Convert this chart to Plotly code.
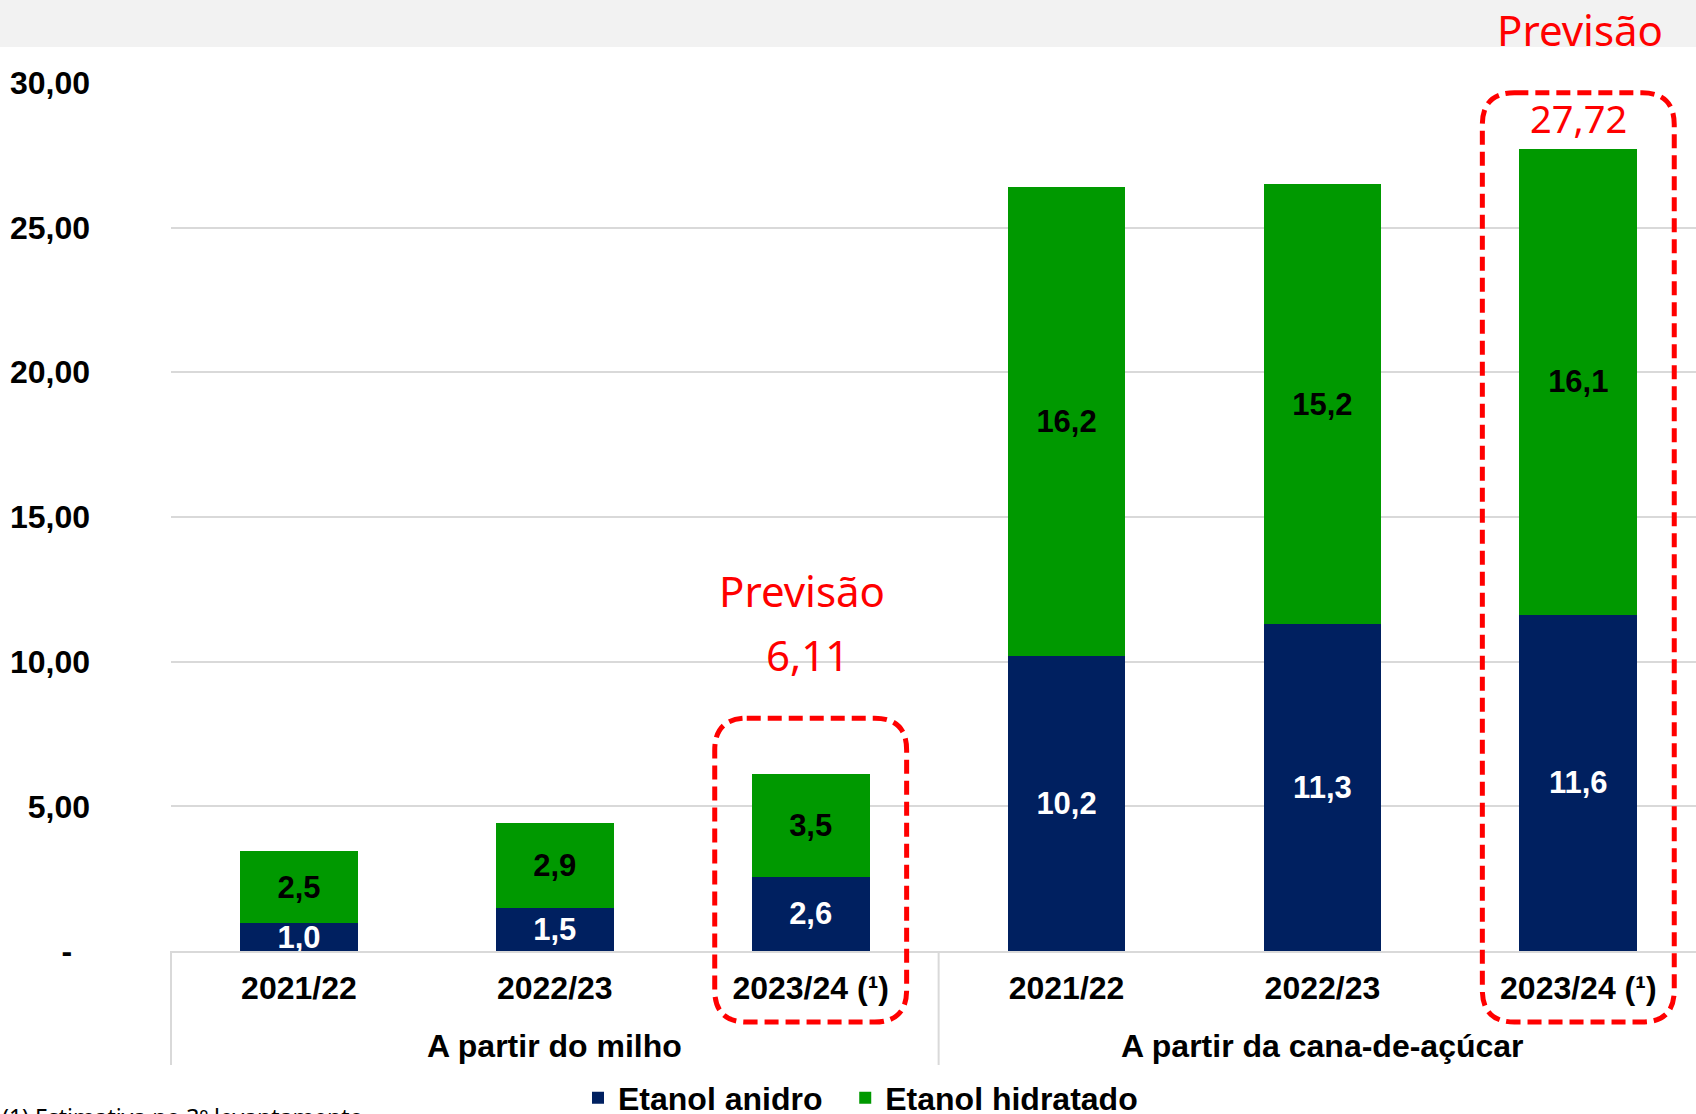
import plotly.graph_objects as go

# ---------------- data ----------------
categories = ["2021/22", "2022/23", "2023/24 (¹)", "2021/22", "2022/23", "2023/24 (¹)"]
groups = ["A partir do milho", "A partir da cana-de-açúcar"]
group_sizes = [3, 3]
series_names = ["Etanol anidro", "Etanol hidratado"]
anidro = [0.96, 1.50, 2.57, 10.20, 11.30, 11.62]
hidratado = [2.48, 2.91, 3.54, 16.20, 15.20, 16.10]
forecast_idx = [2, 5]
y_ticks = [0, 5, 10, 15, 20, 25, 30]
y_ticktext = ["-\u00a0\u00a0", "5,00", "10,00", "15,00", "20,00", "25,00", "30,00"]
forecast_label = "Previsão"
footnote = "(1) Estimativa no 3º levantamento"

# ---------------- layout geometry ----------------
W, H = 1696, 1114
L, R, T, B = 171, 0, 82, 163
PW, PH = W - L - R, H - T - B
XR = [-0.5, 5.46]
YR = [0, 30.03]

NAVY = "#002060"
GREEN = "#009900"
GRID = "#d9d9d9"
RED = "#ff0000"
BOLD = "Liberation Sans, Arial, sans-serif"
LIGHT = "Noto Sans, Open Sans, sans-serif"


def fmt1(v):
    return f"{v:.1f}".replace(".", ",")


def fmt2(v):
    return f"{v:.2f}".replace(".", ",")


def xp(v):
    return (v - XR[0]) / (XR[1] - XR[0])


def yp(v):
    return (v - YR[0]) / (YR[1] - YR[0])


def ypix(py):  # paper y of a pixel row
    return (H - B - py) / PH


x = list(range(len(categories)))
totals = [a + h for a, h in zip(anidro, hidratado)]

fig = go.Figure()
for vals, name, color, tcolor in [(anidro, series_names[0], NAVY, "white"),
                                  (hidratado, series_names[1], GREEN, "black")]:
    fig.add_trace(go.Bar(
        x=x, y=vals, name=name + "\u00a0\u00a0", marker=dict(color=color, line=dict(width=0)),
        text=[fmt1(v) for v in vals], textposition="inside", insidetextanchor="middle",
        textangle=0, constraintext="none",
        textfont=dict(family=BOLD, size=31, color=tcolor, weight="bold"),
        width=0.46, hoverinfo="skip",
    ))

shapes = []
# grey band at the top
shapes.append(dict(type="rect", xref="paper", yref="paper", x0=-L / PW - 0.01, x1=1 + R / PW + 0.01,
                   y0=ypix(47), y1=ypix(-2), fillcolor="#f2f2f2", line=dict(width=0), layer="below"))
# group separators
start = 0
for n in group_sizes + [0]:
    xv = start - 0.5
    if XR[0] - 1e-9 <= xv <= XR[1]:
        shapes.append(dict(type="line", xref="paper", yref="paper", x0=xp(xv), x1=xp(xv),
                           y0=0, y1=ypix(1065), line=dict(color=GRID, width=2)))
    start += n

# dashed rounded boxes around the forecasts
rx, ry = 32 / PW, 32 / PH
for i in forecast_idx:
    x0, x1 = xp(i - 0.375), xp(i + 0.375)
    y1 = yp(totals[i]) + 56 / PH
    y0 = ypix(1022)
    path = (f"M {x0 + rx},{y1} L {x1 - rx},{y1} Q {x1},{y1} {x1},{y1 - ry} "
            f"L {x1},{y0 + ry} Q {x1},{y0} {x1 - rx},{y0} L {x0 + rx},{y0} "
            f"Q {x0},{y0} {x0},{y0 + ry} L {x0},{y1 - ry} Q {x0},{y1} {x0 + rx},{y1} Z")
    shapes.append(dict(type="path", xref="paper", yref="paper", path=path,
                       line=dict(color=RED, width=5, dash="14px,7px"), layer="above"))

annotations = []
# group labels
start = 0
for g, n in zip(groups, group_sizes):
    annotations.append(dict(x=start + (n - 1) / 2, xref="x", y=ypix(1046), yref="paper",
                            text=g, showarrow=False, yanchor="middle",
                            font=dict(family=BOLD, size=32, color="black", weight="bold")))
    start += n

# forecast annotations
i = forecast_idx[0]
annotations.append(dict(x=i, xref="x", y=totals[i], yref="y", yshift=184, xshift=-9,
                        text=forecast_label, showarrow=False, yanchor="middle",
                        font=dict(family=LIGHT, size=42, color=RED)))
annotations.append(dict(x=i, xref="x", y=totals[i], yref="y", yshift=120, xshift=-3,
                        text=fmt2(totals[i]), showarrow=False, yanchor="middle",
                        font=dict(family=LIGHT, size=42, color=RED)))
i = forecast_idx[1]
annotations.append(dict(x=i, xref="x", y=ypix(30), yref="paper", xshift=2,
                        text=forecast_label, showarrow=False, yanchor="middle",
                        font=dict(family=LIGHT, size=42, color=RED)))
annotations.append(dict(x=i, xref="x", y=totals[i], yref="y", yshift=31,
                        text=fmt2(totals[i]), showarrow=False, yanchor="middle",
                        font=dict(family=LIGHT, size=38, color=RED)))
# footnote
annotations.append(dict(x=-L / PW, xref="paper", y=ypix(1099), yref="paper", xanchor="left",
                        yanchor="top", text=footnote, showarrow=False,
                        font=dict(family=LIGHT, size=23, color="black")))

fig.update_layout(
    width=W, height=H, margin=dict(l=L, r=R, t=T, b=B, pad=0, autoexpand=False),
    paper_bgcolor="white", plot_bgcolor="white",
    barmode="stack", showlegend=True,
    legend=dict(orientation="h", traceorder="normal", x=(578 - L) / PW, xanchor="left",
                y=ypix(1098), yanchor="middle",
                font=dict(family=BOLD, size=32, color="black", weight="bold"),
                bgcolor="rgba(0,0,0,0)", itemclick=False, itemdoubleclick=False),
    xaxis=dict(range=XR, tickvals=x, ticktext=categories, showgrid=False, zeroline=False,
               showline=True, linecolor=GRID, linewidth=2, ticks="", ticklabelstandoff=8,
               automargin=False,
               tickfont=dict(family=BOLD, size=32, color="black", weight="bold")),
    yaxis=dict(range=YR, tickvals=y_ticks, ticktext=y_ticktext, showgrid=True, gridcolor=GRID,
               gridwidth=2, zeroline=False, showline=False, ticks="", ticklabelstandoff=80,
               automargin=False,
               tickfont=dict(family=BOLD, size=32, color="black", weight="bold")),
    shapes=shapes, annotations=annotations,
)

fig.write_html("out.html", config={"displayModeBar": False},
               post_script="document.body.style.margin='0px';")
